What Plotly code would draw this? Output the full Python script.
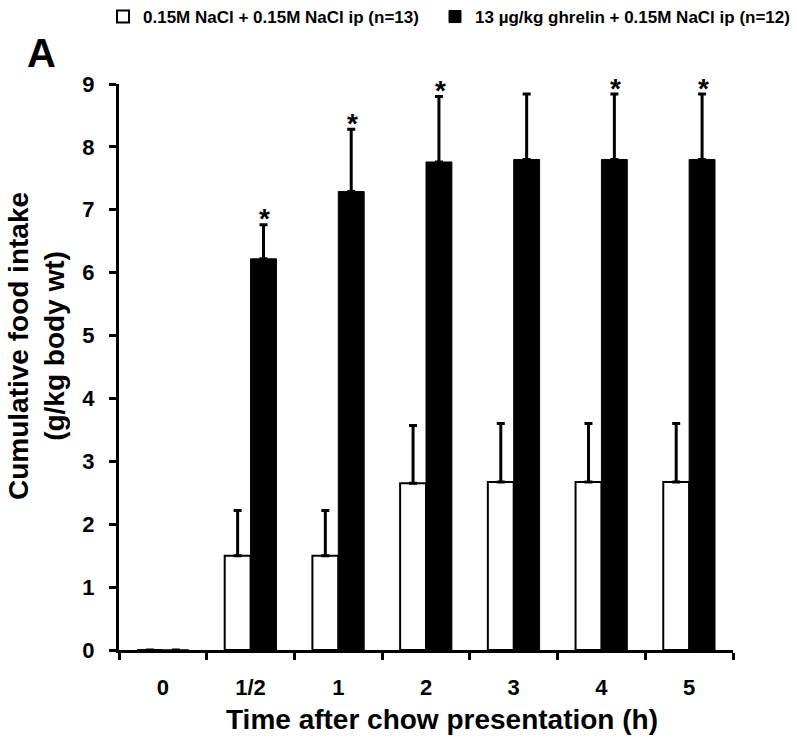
import plotly.graph_objects as go

# ---- data ----
categories = ["0", "1/2", "1", "2", "3", "4", "5"]
saline_mean = [0, 1.50, 1.50, 2.65, 2.67, 2.67, 2.67]
saline_sem = [None, 0.72, 0.72, 0.92, 0.93, 0.93, 0.93]
ghrelin_mean = [0, 6.22, 7.29, 7.76, 7.80, 7.80, 7.80]
ghrelin_sem = [None, 0.54, 0.99, 1.04, 1.04, 1.04, 1.04]
significant = [False, True, True, True, False, True, True]
saline_name = "0.15M NaCl + 0.15M NaCl ip (n=13)"
ghrelin_name = "13 \u00b5g/kg ghrelin + 0.15M NaCl ip (n=12)"

FONT = "Liberation Sans, Arial, sans-serif"
W, H = 797, 740
L, R, T, B = 119, 733, 84, 650  # plot area in pixels


def px(x):
    return (x - L) / (R - L)


def py(y):
    return (B - y) / (B - T)


def one_sided(sem):
    # upward-only error bars; nothing drawn where there is no SEM
    return [None if s is None else 0 for s in sem]


fig = go.Figure()
fig.add_trace(go.Bar(
    x=categories, y=saline_mean, name=saline_name,
    marker=dict(color="white", line=dict(color="black", width=2)),
    error_y=dict(type="data", symmetric=False, array=saline_sem,
                 arrayminus=one_sided(saline_sem), color="black",
                 thickness=3, width=4),
    legend="legend",
))
fig.add_trace(go.Bar(
    x=categories, y=ghrelin_mean, name=ghrelin_name,
    marker=dict(color="black", line=dict(color="black", width=1)),
    error_y=dict(type="data", symmetric=False, array=ghrelin_sem,
                 arrayminus=one_sided(ghrelin_sem), color="black",
                 thickness=3, width=4),
    legend="legend2",
))

# asterisks above the ghrelin error bars
annotations = []
for i, (c, m, s, sig) in enumerate(zip(categories, ghrelin_mean, ghrelin_sem, significant)):
    if sig:
        annotations.append(dict(
            x=i, y=m + (s or 0), xref="x", yref="y", text="<b>*</b>",
            showarrow=False, xshift=14, yshift=6, yanchor="middle",
            font=dict(family=FONT, size=28, color="black"),
        ))

annotations.append(dict(
    text="<b>A</b>", xref="paper", yref="paper",
    x=px(41), y=py(53), xanchor="center", yanchor="middle",
    showarrow=False, font=dict(family=FONT, size=40, color="black"),
))
annotations.append(dict(
    text="<b>Cumulative food intake<br>(g/kg body wt)</b>",
    xref="paper", yref="paper", x=px(36), y=py(346),
    xanchor="center", yanchor="middle", textangle=-90, showarrow=False,
    font=dict(family=FONT, size=28, color="black"),
))
annotations.append(dict(
    text="<b>Time after chow presentation (h)</b>",
    xref="paper", yref="paper", x=px(442), y=py(719),
    xanchor="center", yanchor="middle", showarrow=False,
    font=dict(family=FONT, size=28, color="black"),
))

fig.update_layout(
    width=W, height=H,
    paper_bgcolor="white", plot_bgcolor="white",
    margin=dict(l=L, r=W - R, t=T, b=H - B, pad=0),
    barmode="group", bargap=0.41, bargroupgap=0,
    font=dict(family=FONT, color="black"),
    showlegend=True,
    legend=dict(orientation="h", xref="container", yref="container",
                x=103 / W, y=1 - 17 / H, xanchor="left", yanchor="middle",
                font=dict(family=FONT, size=17, color="black", weight="bold"),
                bgcolor="rgba(0,0,0,0)", borderwidth=0),
    legend2=dict(orientation="h", xref="container", yref="container",
                 x=435 / W, y=1 - 17 / H, xanchor="left", yanchor="middle",
                 font=dict(family=FONT, size=17, color="black", weight="bold"),
                 bgcolor="rgba(0,0,0,0)", borderwidth=0),
    annotations=annotations,
    xaxis=dict(type="category", range=[-0.5, len(categories) - 0.5],
               showline=True, linecolor="black", linewidth=3,
               ticks="outside", tickson="boundaries", ticklen=7, tickwidth=3,
               tickcolor="black", showgrid=False, zeroline=False,
               ticklabelstandoff=16,
               tickfont=dict(family=FONT, size=22, color="black", weight="bold")),
    yaxis=dict(range=[0, 9], dtick=1, tick0=0,
               showline=True, linecolor="black", linewidth=3,
               ticks="outside", ticklen=7, tickwidth=3, tickcolor="black",
               showgrid=False, zeroline=False, ticklabelstandoff=10,
               tickfont=dict(family=FONT, size=22, color="black", weight="bold")),
)

fig.write_html("out.html", config={"displayModeBar": False},
               post_script="document.body.style.margin='0';document.body.style.overflow='hidden';")
